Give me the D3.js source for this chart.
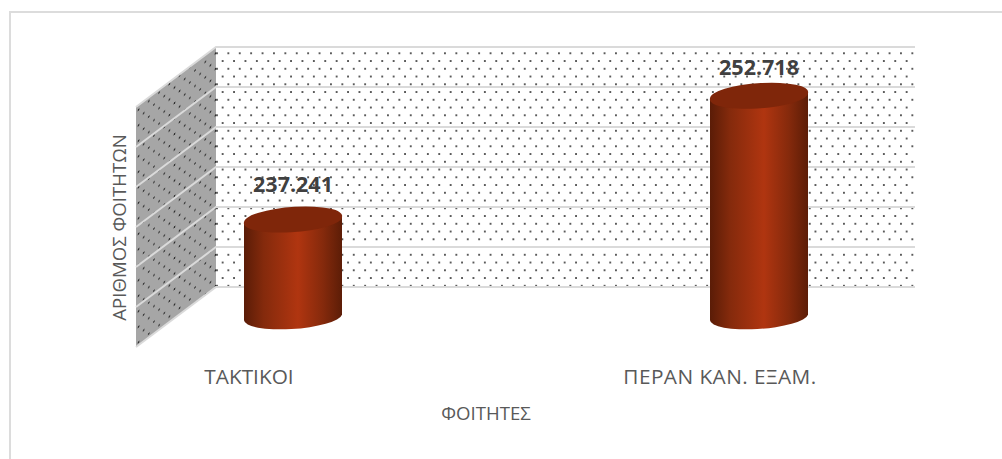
<!DOCTYPE html>
<html><head><meta charset="utf-8">
<script src="https://cdn.jsdelivr.net/npm/d3@7"></script>
<style>html,body{margin:0;background:#fff}svg{display:block}text{font-family:"Open Sans",sans-serif}</style>
</head><body><svg id="c" width="1002" height="459"></svg>
<script>
const categories = ["ΤΑΚΤΙΚΟΙ", "ΠΕΡΑΝ ΚΑΝ. ΕΞΑΜ."];
const values = [237241, 252718];
const valueLabels = ["237.241", "252.718"];
const yTicks = [225000, 230000, 235000, 240000, 245000, 250000, 255000];
const xTitle = "ΦΟΙΤΗΤΕΣ";
const yTitle = "ΑΡΙΘΜΟΣ ΦΟΙΤΗΤΩΝ";

const svg = d3.select("#c");
const wall = {l:216, r:915};
const depth = {dx:-80, dy:60};
const frontDy = 30.5;
const y = d3.scaleLinear().domain([225000,255000]).range([287,47]);
const x = d3.scaleBand().domain(categories).range([60,992]);
const cx = d => x(d)+x.bandwidth()/2;

const defs = svg.append("defs");
function dots(id, bg, tf){
  const p = defs.append("pattern").attr("id",id).attr("patternUnits","userSpaceOnUse")
    .attr("width",11.4).attr("height",15.5).attr("patternTransform",tf);
  p.append("rect").attr("width",11.4).attr("height",15.5).attr("fill",bg);
  p.append("circle").attr("cx",2.85).attr("cy",3.9).attr("r",0.95).attr("fill","#222");
  p.append("circle").attr("cx",8.55).attr("cy",11.65).attr("r",0.95).attr("fill","#222");
}
dots("back","#fff","translate(214.1,49.4)");
dots("side","#a6a6a6","translate(136,108) matrix(0.9,-0.75,0,1,0,0)");
const g = defs.append("linearGradient").attr("id","cyl");
[[0,"#5a1c07"],[.2,"#842a0c"],[.55,"#b03510"],[.8,"#862a0c"],[1,"#5c1d07"]].forEach(s=>
  g.append("stop").attr("offset",s[0]).attr("stop-color",s[1]));

svg.append("path").attr("d","M10,459V12H1002").attr("fill","none").attr("stroke","#dcdcdc").attr("stroke-width",2);

const yB=y.range()[0], yT=y.range()[1];
svg.append("path").attr("d",`M${wall.l},${yT}L${wall.r},${yT}L${wall.r},${yB}L${wall.l},${yB}Z`).attr("fill","url(#back)");
svg.append("path").attr("d",`M${wall.l},${yT}L${wall.l+depth.dx},${yT+depth.dy}L${wall.l+depth.dx},${yB+depth.dy}L${wall.l},${yB}Z`).attr("fill","url(#side)");
svg.append("g").selectAll("path").data(yTicks).join("path")
  .attr("d",t=>`M${wall.l+depth.dx},${y(t)+depth.dy}L${wall.l},${y(t)}L${wall.r},${y(t)}`)
  .attr("fill","none").attr("stroke","#dadada").attr("stroke-width",2);

const a=49.2,b=12,rot=-4,hx=49,ex=2.8;
const bars = svg.append("g").selectAll("g").data(categories).join("g");
bars.each(function(c,i){
  const s=d3.select(this), m=cx(c), yt=y(values[i])+frontDy, yb=y(225000)+frontDy;
  s.append("path").attr("fill","url(#cyl)")
   .attr("d",`M${m-hx},${yt+ex}L${m+hx},${yt-ex}L${m+hx},${yb-ex}A${a},${b} ${rot} 0 1 ${m-hx},${yb+ex}Z`);
  s.append("path").attr("fill","#7f260a")
   .attr("d",`M${m-hx},${yt+ex}A${a},${b} ${rot} 1 1 ${m+hx},${yt-ex}A${a},${b} ${rot} 1 1 ${m-hx},${yt+ex}Z`);
  s.append("text").attr("x",m).attr("y",yt-(i?20.8:27.6)).attr("text-anchor","middle")
   .attr("font-size",21.5).attr("font-weight",700).attr("fill","#404040").text(valueLabels[i]);
  s.append("text").attr("x",m-(i?39:44)).attr("y",384).attr("text-anchor","middle")
   .attr("font-size",20.8).attr("letter-spacing",i?0.45:0).attr("fill","#595959").text(c);
});
svg.append("text").attr("x",486).attr("y",420).attr("text-anchor","middle").attr("font-size",18.6).attr("fill","#595959").text(xTitle);
svg.append("text").attr("transform","translate(126,227.5) rotate(-90)").attr("text-anchor","middle").attr("font-size",18.6).attr("fill","#595959").text(yTitle);
</script></body></html>
